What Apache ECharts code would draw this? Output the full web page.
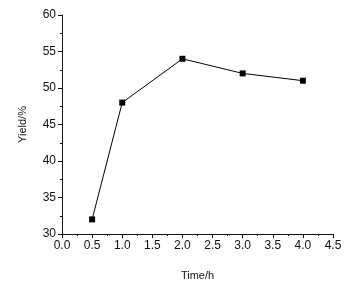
<!DOCTYPE html>
<html>
<head>
<meta charset="utf-8">
<script src="https://cdn.jsdelivr.net/npm/echarts@6/dist/echarts.min.js"></script>
<style>
html, body { margin: 0; padding: 0; background: #fff; }
#chart { width: 362px; height: 286px; }
</style>
</head>
<body>
<div id="chart"></div>
<script>
// reaction time (h) vs yield (%)
var times = [0.5, 1.0, 2.0, 3.0, 4.0];
var yields = [32, 48, 54, 52, 51];

var axisCol = '#111';
var myCharts = echarts.init(document.getElementById('chart'));

var option = {
	animation: false,
	grid: {
		left: 62,
		right: 29,
		top: 15,
		bottom: 51,
		containLabel: false
	},
	xAxis: {
		type: 'value',
		min: 0,
		max: 4.5,
		interval: 0.5,
		name: 'Time/h',
		nameLocation: 'middle',
		nameGap: 36,
		nameTextStyle: {color: axisCol, fontFamily: 'Liberation Sans', fontSize: 11},
		axisLine: {show: true, lineStyle: {color: axisCol, width: 1}},
		axisTick: {show: true, length: 4, lineStyle: {color: axisCol}},
		minorTick: {show: true, splitNumber: 2, length: 2, lineStyle: {color: axisCol}},
		splitLine: {show: false},
		axisLabel: {
			color: axisCol,
			fontFamily: 'Liberation Sans',
			fontSize: 12,
			margin: 6,
			formatter: function (v) { return v.toFixed(1); }
		}
	},
	yAxis: {
		type: 'value',
		min: 30,
		max: 60,
		interval: 5,
		name: 'Yield/%',
		nameLocation: 'middle',
		nameGap: 34,
		nameTextStyle: {color: axisCol, fontFamily: 'Liberation Sans', fontSize: 11},
		axisLine: {show: true, lineStyle: {color: axisCol, width: 1}},
		axisTick: {show: true, length: 4, lineStyle: {color: axisCol}},
		minorTick: {show: true, splitNumber: 2, length: 2, lineStyle: {color: axisCol}},
		splitLine: {show: false},
		axisLabel: {
			color: axisCol,
			fontFamily: 'Liberation Sans',
			fontSize: 12,
			margin: 6
		}
	},
	series: [
	{
		type: 'line',
		symbol: 'rect',
		symbolSize: 6,
		lineStyle: {color: '#000', width: 1},
		itemStyle: {color: '#000'},
		data: times.map(function (t, i) {
			return [t, yields[i]];
		})
	}
	]
};
myCharts.setOption(option);
</script>
</body>
</html>
